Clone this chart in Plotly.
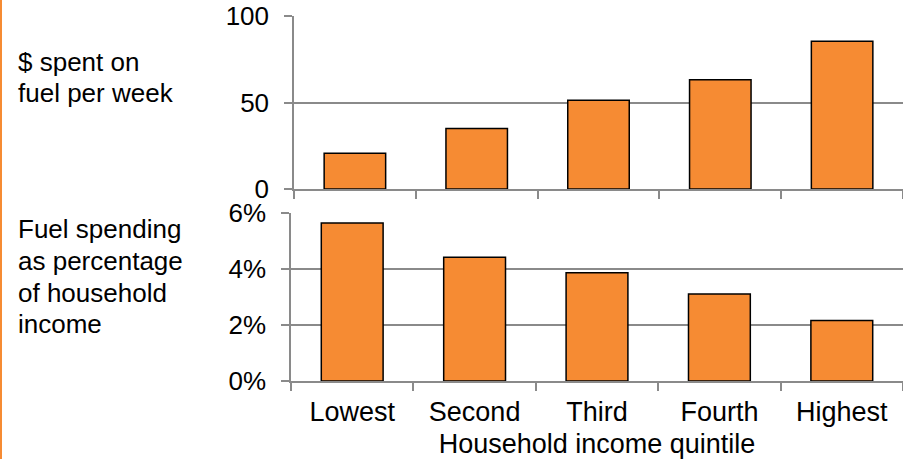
import plotly.graph_objects as go

categories = ["Lowest", "Second", "Third", "Fourth", "Highest"]
fuel_dollars = [20.6, 34.9, 51.3, 63.2, 85.4]
fuel_share = [0.0564, 0.0442, 0.0387, 0.0311, 0.0216]
top_ticks = [0, 50, 100]
bottom_ticks = [0, 0.02, 0.04, 0.06]
top_label = ["$ spent on", "fuel per week"]
bottom_label = ["Fuel spending", "as percentage", "of household", "income"]
x_title = "Household income quintile"

W, H = 903, 459
L, R, T, B = 291, 0, 16, 78
PW = W - L - R
PH = H - T - B

def px_x(px):
    return (px - L) / PW

def px_y(py):
    return (H - B - py) / PH

ORANGE = "#F68B33"
GRID = "#8a8a8a"
FONT = "Liberation Sans, Arial, sans-serif"

fig = go.Figure()
fig.add_trace(go.Bar(x=categories, y=fuel_dollars, xaxis="x2", yaxis="y2",
                     marker=dict(color=ORANGE, line=dict(color="black", width=1.5)),
                     showlegend=False, hoverinfo="skip"))
fig.add_trace(go.Bar(x=categories, y=fuel_share, xaxis="x", yaxis="y",
                     marker=dict(color=ORANGE, line=dict(color="black", width=1.5)),
                     showlegend=False, hoverinfo="skip"))

axis_common = dict(showline=True, linecolor=GRID, linewidth=1.5, ticks="outside",
                   ticklen=8, tickcolor=GRID, tickwidth=1.5, automargin=False,
                   zeroline=False)

top_dom = [px_y(189), 1.0]
bot_dom = [0.0, px_y(213)]

fig.update_layout(
    width=W, height=H,
    margin=dict(l=L, r=R, t=T, b=B, pad=0),
    template="none",
    paper_bgcolor="white", plot_bgcolor="white",
    bargap=0.495,
    font=dict(family=FONT, color="black", size=26),
    xaxis=dict(domain=[0, 1], type="category", tickson="boundaries",
               anchor="y", tickfont=dict(size=27), ticklabelstandoff=6,
               showgrid=False,
               title=dict(text=x_title, font=dict(size=27), standoff=10),
               **axis_common),
    yaxis=dict(domain=bot_dom, range=[0, 0.06], tickvals=bottom_ticks,
               tickformat=".0%", anchor="x", showgrid=True, gridcolor=GRID,
               gridwidth=1.5, tickfont=dict(size=26), ticklabelstandoff=10,
               **axis_common),
    xaxis2=dict(domain=[px_x(294), 1], type="category", tickson="boundaries",
                anchor="y2", showticklabels=False, showgrid=False, **axis_common),
    yaxis2=dict(domain=top_dom, range=[0, 100], tickvals=top_ticks,
                anchor="x2", showgrid=True, gridcolor=GRID, gridwidth=1.5,
                tickfont=dict(size=26), ticklabelstandoff=10, **axis_common),
)

def add_lines(lines, baselines, size=26):
    for txt, base in zip(lines, baselines):
        fig.add_annotation(text=txt, xref="paper", yref="paper",
                           x=px_x(16), y=px_y(base - 0.35 * size),
                           xanchor="left", yanchor="middle", showarrow=False,
                           font=dict(size=size, family=FONT, color="black"))

add_lines(top_label, [70.7, 102.3])
add_lines(bottom_label, [238.3, 270.0, 301.7, 333.3])

fig.add_shape(type="line", xref="paper", yref="paper",
              x0=px_x(1), x1=px_x(1), y0=px_y(H), y1=px_y(0),
              line=dict(color=ORANGE, width=2))

fig.write_html("out.html", config={"displayModeBar": False},
               post_script="document.body.style.margin='0px';document.body.style.overflow='hidden';")
